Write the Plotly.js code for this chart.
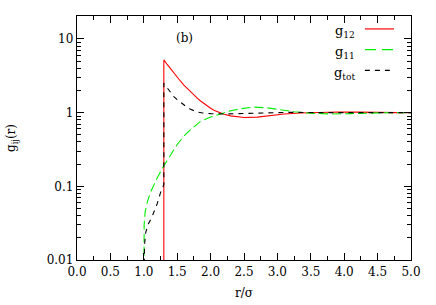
<!DOCTYPE html>
<html>
<head>
<meta charset="utf-8">
<script src="https://cdn.plot.ly/plotly-3.0.1.min.js"></script>
<style>html,body{margin:0;padding:0;background:#fff;}#plot{width:436px;height:305px;}</style>
</head>
<body>
<div id="plot"></div>
<script>
// g12 (red solid)
var r12 = [1.3, 1.3, 1.35, 1.4, 1.45, 1.5, 1.55, 1.6, 1.65, 1.7, 1.75, 1.8, 1.85, 1.9, 1.95, 2.0, 2.05, 2.1, 2.15, 2.2, 2.3, 2.4, 2.5, 2.7, 2.9, 3.1, 3.35, 3.6, 3.9, 4.2, 4.5, 4.8, 5.0];
var g12 = [0.001, 5.2, 4.51, 3.93, 3.44, 3.03, 2.67, 2.37, 2.12, 1.91, 1.73, 1.57, 1.44, 1.33, 1.23, 1.15, 1.08, 1.03, 0.985, 0.95, 0.905, 0.875, 0.86, 0.87, 0.91, 0.96, 0.99, 1.01, 1.02, 1.015, 1.0, 1.0, 1.0];
// g11 (green dashed)
var r11 = [1.0, 1.0, 1.005, 1.02, 1.05, 1.1, 1.2, 1.3, 1.4, 1.5, 1.6, 1.7, 1.85, 2.0, 2.15, 2.3, 2.45, 2.65, 2.85, 3.05, 3.25, 3.5, 3.8, 4.1, 4.4, 4.7, 5.0];
var g11 = [0.001, 0.02, 0.03, 0.045, 0.06, 0.083, 0.13, 0.19, 0.27, 0.37, 0.48, 0.59, 0.76, 0.87, 0.96, 1.06, 1.13, 1.19, 1.16, 1.09, 1.03, 0.98, 0.96, 0.97, 0.99, 1.0, 1.0];
// gtot (black dashed)
var rtot = [1.0, 1.0, 1.01, 1.03, 1.07, 1.13, 1.2, 1.25, 1.29, 1.3, 1.3, 1.35, 1.4, 1.45, 1.5, 1.55, 1.6, 1.65, 1.7, 1.75, 1.8, 1.88, 2.0, 2.2, 2.5, 2.8, 3.2, 3.6, 4.0, 4.5, 5.0];
var gtot = [0.001, 0.012, 0.016, 0.024, 0.031, 0.04, 0.058, 0.082, 0.1, 0.105, 2.5, 2.15, 1.87, 1.65, 1.5, 1.38, 1.27, 1.18, 1.11, 1.05, 1.02, 0.99, 0.97, 0.96, 0.97, 1.0, 1.01, 1.0, 1.0, 1.0, 1.0];

var xTicks = [0, 0.5, 1, 1.5, 2, 2.5, 3, 3.5, 4, 4.5, 5];
var xTickLabels = ["0.0","0.5","1.0","1.5","2.0","2.5","3.0","3.5","4.0","4.5","5.0"];
var yTicks = [0.01, 0.1, 1, 10];
var yTickLabels = ["0.01", "0.1", "1", "10"];
var yMinor = [];
[0.01, 0.1, 1, 10].forEach(function(d){ for (var k = 2; k <= 9; k++) { if (d*k <= 20.5) yMinor.push(d*k); } });
var legendNames = ["g<sub>12</sub>", "g<sub>11</sub>", "g<sub>tot</sub>"];
var colors = ["#ff0000", "#00ee00", "#000000"];
var dashes = ["solid", "9px,4px", "5px,5px"];

var font = "DejaVu Serif, serif";
var traces = [
  {x: r12, y: g12, mode: "lines", line: {color: colors[0], width: 1.1, dash: dashes[0]}},
  {x: r11, y: g11, mode: "lines", line: {color: colors[1], width: 1.1, dash: dashes[1]}},
  {x: rtot, y: gtot, mode: "lines", line: {color: colors[2], width: 1.1, dash: dashes[2]}}
];

var legY = [0.935, 0.85, 0.765];
var annotations = legendNames.map(function(n, i){
  return {xref: "paper", yref: "paper", x: 0.838, y: legY[i], xanchor: "right", yanchor: "middle",
          text: n, showarrow: false, font: {family: font, size: 13, color: "#000"}};
});
annotations.push({xref: "paper", yref: "paper", x: 0.323, y: 0.91, xanchor: "center", yanchor: "middle",
  text: "(b)", showarrow: false, font: {family: font, size: 12, color: "#000"}});
var legDash = ["solid", "11px,6px", "5px,5px"];
var shapes = legendNames.map(function(n, i){
  return {type: "line", xref: "paper", yref: "paper", x0: 0.862, x1: 0.949, y0: legY[i] + 0.012, y1: legY[i] + 0.012,
          line: {color: colors[i], width: 1.2, dash: legDash[i]}};
});

var layout = {
  width: 436, height: 305,
  margin: {l: 77, r: 25, t: 16, b: 45},
  paper_bgcolor: "#fff", plot_bgcolor: "#fff",
  showlegend: false,
  font: {family: font, size: 12, color: "#000"},
  xaxis: {
    range: [0, 5], tickvals: xTicks, ticktext: xTickLabels,
    ticks: "inside", ticklen: 7, tickwidth: 1, tickcolor: "#000",
    showline: true, linecolor: "#000", linewidth: 1.2, mirror: "allticks",
    showgrid: false, zeroline: false,
    minor: {tickvals: [0.25,0.75,1.25,1.75,2.25,2.75,3.25,3.75,4.25,4.75], ticks: "inside", ticklen: 4, tickcolor: "#000", showgrid: false},
    tickfont: {family: font, size: 12},
    title: {text: "r/σ", font: {family: font, size: 12}, standoff: 11}
  },
  yaxis: {
    type: "log", range: [-2, Math.log10(20.5)], tickvals: yTicks, ticktext: yTickLabels,
    ticks: "inside", ticklen: 7, tickwidth: 1, tickcolor: "#000",
    showline: true, linecolor: "#000", linewidth: 1.2, mirror: "allticks",
    showgrid: false, zeroline: false,
    minor: {tickvals: yMinor, ticks: "inside", ticklen: 4, tickcolor: "#000", showgrid: false},
    tickfont: {family: font, size: 12},
    title: {text: "g<sub>ij</sub>(r)", font: {family: font, size: 12}, standoff: 28}
  },
  annotations: annotations,
  shapes: shapes
};
Plotly.newPlot("plot", traces, layout, {staticPlot: true, displayModeBar: false});
</script>
</body>
</html>
